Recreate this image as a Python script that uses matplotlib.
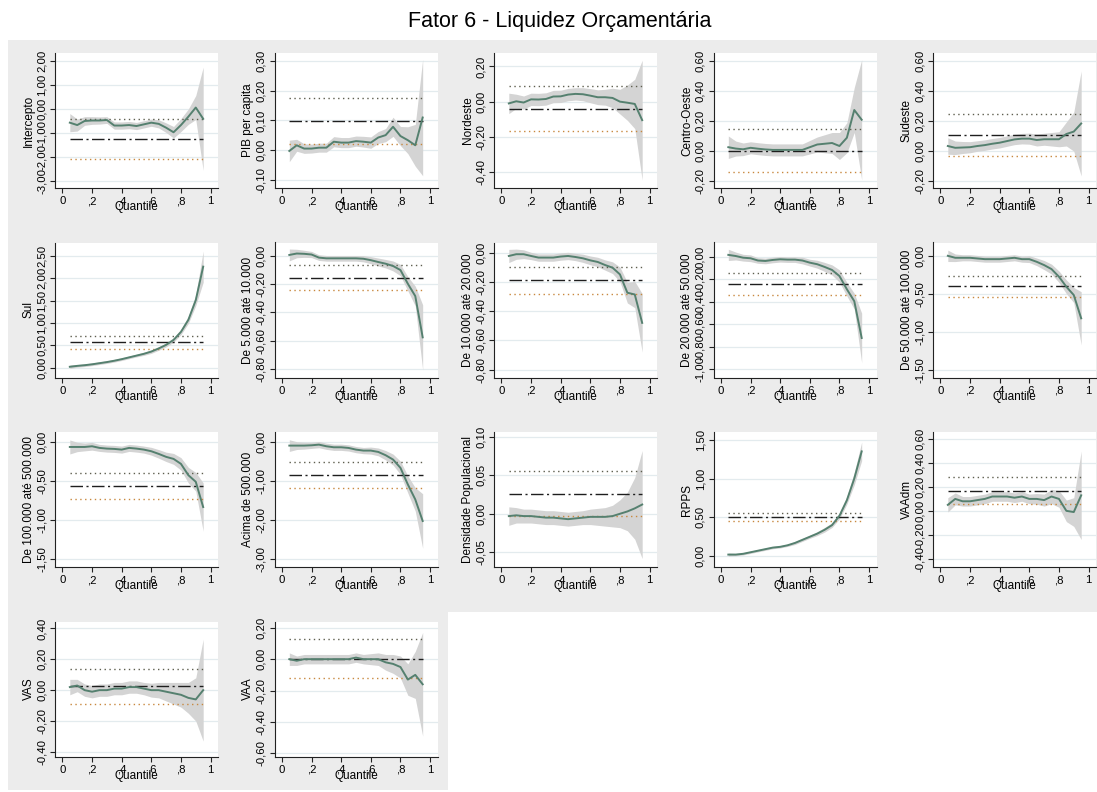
import numpy as np
import matplotlib.pyplot as plt
from matplotlib.patches import Rectangle
from matplotlib.ticker import FuncFormatter

# quantiles estimated
quantiles = [0.05, 0.10, 0.15, 0.20, 0.25, 0.30, 0.35, 0.40, 0.45, 0.50,
             0.55, 0.60, 0.65, 0.70, 0.75, 0.80, 0.85, 0.90, 0.95]

var_names = ["Intercepto", "PIB per capita", "Nordeste", "Centro-Oeste", "Sudeste",
             "Sul", "De 5.000 até 10.000", "De 10.000 até 20.000", "De 20.000 até 50.000",
             "De 50.000 até 100.000", "De 100.000 até 500.000", "Acima de 500.000",
             "Densidade Populacional", "RPPS", "VAAdm", "VAS", "VAA"]

# quantile regression coefficients
intercepto = [-0.56, -0.66, -0.49, -0.47, -0.47, -0.45, -0.68, -0.68, -0.66, -0.70,
              -0.63, -0.56, -0.61, -0.77, -0.96, -0.66, -0.31, 0.07, -0.40]
pib = [-0.002, 0.017, 0.006, 0.006, 0.009, 0.009, 0.029, 0.026, 0.026, 0.031,
       0.029, 0.026, 0.043, 0.051, 0.079, 0.048, 0.034, 0.017, 0.110]
nordeste = [-0.010, 0.002, -0.005, 0.013, 0.012, 0.015, 0.029, 0.030, 0.040, 0.044,
            0.042, 0.034, 0.025, 0.025, 0.021, 0.000, -0.006, -0.013, -0.105]
centro_oeste = [0.022, 0.013, 0.008, 0.018, 0.012, 0.007, 0.004, 0.004, 0.004, 0.004,
                0.004, 0.022, 0.040, 0.045, 0.050, 0.030, 0.085, 0.270, 0.205]
sudeste = [0.030, 0.018, 0.020, 0.022, 0.030, 0.036, 0.045, 0.052, 0.063, 0.074,
           0.079, 0.079, 0.070, 0.075, 0.075, 0.075, 0.110, 0.126, 0.180]
sul = [0.02, 0.04, 0.055, 0.075, 0.10, 0.125, 0.155, 0.19, 0.23, 0.27,
       0.31, 0.36, 0.43, 0.51, 0.62, 0.80, 1.07, 1.51, 2.26]
pop_5_10 = [0.007, 0.017, 0.015, 0.010, -0.012, -0.017, -0.017, -0.017, -0.017, -0.017,
            -0.020, -0.030, -0.043, -0.055, -0.071, -0.100, -0.197, -0.284, -0.576]
pop_10_20 = [-0.023, -0.011, -0.011, -0.023, -0.034, -0.034, -0.034, -0.027, -0.023, -0.030,
             -0.039, -0.053, -0.064, -0.085, -0.103, -0.149, -0.274, -0.286, -0.480]
pop_20_50 = [0.015, 0.005, -0.010, -0.015, -0.035, -0.039, -0.030, -0.024, -0.027, -0.027,
             -0.035, -0.054, -0.068, -0.092, -0.119, -0.173, -0.290, -0.396, -0.723]
pop_50_100 = [0.000, -0.026, -0.026, -0.026, -0.035, -0.044, -0.044, -0.044, -0.035, -0.026,
              -0.044, -0.044, -0.079, -0.122, -0.175, -0.275, -0.407, -0.516, -0.822]
pop_100_500 = [-0.060, -0.060, -0.060, -0.051, -0.072, -0.081, -0.085, -0.094, -0.072, -0.081,
               -0.094, -0.115, -0.149, -0.187, -0.213, -0.277, -0.422, -0.507, -0.831]
pop_500 = [-0.085, -0.085, -0.085, -0.077, -0.060, -0.102, -0.128, -0.128, -0.145, -0.188,
           -0.213, -0.213, -0.247, -0.332, -0.443, -0.656, -1.083, -1.466, -2.020]
densidade = [-0.003, -0.002, -0.003, -0.003, -0.004, -0.005, -0.005, -0.006, -0.007, -0.006,
             -0.005, -0.004, -0.004, -0.004, -0.003, 0.000, 0.003, 0.007, 0.012]
rpps = [0.02, 0.02, 0.03, 0.05, 0.07, 0.09, 0.11, 0.12, 0.14, 0.17,
        0.21, 0.25, 0.29, 0.34, 0.40, 0.52, 0.72, 1.00, 1.35]
vaadm = [0.05, 0.10, 0.08, 0.08, 0.09, 0.10, 0.12, 0.12, 0.12, 0.11,
         0.12, 0.10, 0.10, 0.09, 0.12, 0.10, 0.00, -0.01, 0.13]
vas = [0.02, 0.03, 0.00, -0.01, 0.00, 0.00, 0.01, 0.01, 0.02, 0.02,
       0.01, 0.00, 0.00, -0.01, -0.02, -0.03, -0.05, -0.06, 0.00]
vaa = [0.00, -0.01, 0.00, 0.00, 0.00, 0.00, 0.00, 0.00, 0.00, 0.01,
       0.00, 0.00, 0.00, -0.02, -0.03, -0.05, -0.13, -0.10, -0.16]

# half width of the 95% band
intercepto_hw = [0.38, 0.25, 0.18, 0.16, 0.15, 0.14, 0.15, 0.15, 0.15, 0.15,
                 0.15, 0.15, 0.17, 0.20, 0.24, 0.27, 0.32, 0.50, 2.15]
pib_hw = [0.036, 0.020, 0.016, 0.015, 0.015, 0.015, 0.017, 0.017, 0.017, 0.017,
          0.018, 0.019, 0.020, 0.022, 0.032, 0.032, 0.045, 0.070, 0.195]
nordeste_hw = [0.058, 0.040, 0.037, 0.035, 0.035, 0.035, 0.035, 0.035, 0.035, 0.035,
               0.037, 0.040, 0.042, 0.045, 0.055, 0.070, 0.100, 0.140, 0.340]
centro_oeste_hw = [0.075, 0.050, 0.042, 0.040, 0.040, 0.040, 0.040, 0.040, 0.040, 0.040,
                   0.040, 0.045, 0.050, 0.060, 0.070, 0.090, 0.100, 0.150, 0.400]
sudeste_hw = [0.055, 0.045, 0.040, 0.037, 0.035, 0.035, 0.035, 0.035, 0.035, 0.035,
              0.035, 0.037, 0.040, 0.040, 0.045, 0.050, 0.080, 0.130, 0.350]
sul_hw = [0.04, 0.03, 0.03, 0.03, 0.03, 0.03, 0.03, 0.03, 0.03, 0.03,
          0.035, 0.04, 0.04, 0.045, 0.05, 0.06, 0.08, 0.12, 0.35]
pop_5_10_hw = [0.042, 0.030, 0.025, 0.022, 0.020, 0.020, 0.020, 0.020, 0.020, 0.020,
               0.022, 0.025, 0.028, 0.030, 0.035, 0.040, 0.050, 0.070, 0.230]
pop_10_20_hw = [0.045, 0.035, 0.030, 0.025, 0.025, 0.025, 0.025, 0.025, 0.025, 0.025,
                0.028, 0.030, 0.032, 0.035, 0.040, 0.050, 0.070, 0.090, 0.200]
pop_20_50_hw = [0.050, 0.035, 0.030, 0.030, 0.025, 0.025, 0.025, 0.025, 0.025, 0.025,
                0.030, 0.030, 0.035, 0.040, 0.045, 0.055, 0.060, 0.070, 0.220]
pop_50_100_hw = [0.075, 0.050, 0.040, 0.040, 0.040, 0.040, 0.040, 0.040, 0.040, 0.040,
                 0.040, 0.045, 0.050, 0.060, 0.065, 0.075, 0.090, 0.100, 0.350]
pop_100_500_hw = [0.090, 0.060, 0.050, 0.050, 0.045, 0.045, 0.045, 0.045, 0.045, 0.045,
                  0.045, 0.050, 0.055, 0.060, 0.070, 0.080, 0.100, 0.120, 0.310]
pop_500_hw = [0.15, 0.10, 0.09, 0.08, 0.08, 0.08, 0.08, 0.08, 0.08, 0.08,
              0.08, 0.09, 0.10, 0.12, 0.14, 0.17, 0.22, 0.30, 0.70]
densidade_hw = [0.012, 0.010, 0.009, 0.009, 0.009, 0.009, 0.009, 0.009, 0.009, 0.009,
                0.009, 0.010, 0.011, 0.012, 0.014, 0.018, 0.025, 0.040, 0.070]
rpps_hw = [0.02, 0.015, 0.015, 0.015, 0.015, 0.015, 0.015, 0.015, 0.015, 0.02,
           0.02, 0.02, 0.025, 0.03, 0.03, 0.04, 0.05, 0.08, 0.12]
vaadm_hw = [0.06, 0.05, 0.04, 0.04, 0.04, 0.04, 0.04, 0.04, 0.04, 0.04,
            0.04, 0.04, 0.045, 0.05, 0.06, 0.07, 0.09, 0.12, 0.37]
vas_hw = [0.05, 0.04, 0.04, 0.04, 0.04, 0.04, 0.04, 0.04, 0.04, 0.04,
          0.04, 0.045, 0.05, 0.06, 0.07, 0.08, 0.10, 0.14, 0.33]
vaa_hw = [0.04, 0.03, 0.03, 0.03, 0.03, 0.03, 0.03, 0.03, 0.03, 0.03,
          0.03, 0.035, 0.04, 0.05, 0.06, 0.07, 0.10, 0.15, 0.33]

# OLS coefficient and its confidence interval
ols_coef = [-1.24, 0.097, -0.040, 0.000, 0.104, 0.567, -0.154, -0.190, -0.242,
            -0.400, -0.562, -0.844, 0.026, 0.500, 0.170, 0.026, 0.000]
ols_lo = [-2.07, 0.020, -0.166, -0.146, -0.034, 0.420, -0.242, -0.281, -0.342,
          -0.538, -0.733, -1.185, -0.003, 0.450, 0.056, -0.090, -0.120]
ols_hi = [-0.40, 0.174, 0.088, 0.146, 0.243, 0.710, -0.066, -0.098, -0.143,
          -0.262, -0.392, -0.503, 0.055, 0.550, 0.285, 0.140, 0.130]

yticks = [[-3, -2, -1, 0, 1, 2], [-0.1, 0, 0.1, 0.2, 0.3], [-0.4, -0.2, 0, 0.2],
          [-0.2, 0, 0.2, 0.4, 0.6], [-0.2, 0, 0.2, 0.4, 0.6],
          [0, 0.5, 1, 1.5, 2, 2.5], [-0.8, -0.6, -0.4, -0.2, 0], [-0.8, -0.6, -0.4, -0.2, 0],
          [-1, -0.8, -0.6, -0.4, -0.2, 0], [-1.5, -1, -0.5, 0],
          [-1.5, -1, -0.5, 0], [-3, -2, -1, 0], [-0.05, 0, 0.05, 0.1], [0, 0.5, 1, 1.5],
          [-0.4, -0.2, 0, 0.2, 0.4, 0.6],
          [-0.4, -0.2, 0, 0.2, 0.4], [-0.6, -0.4, -0.2, 0, 0.2]]
ylims = [(-3.28, 2.34), (-0.126, 0.326), (-0.49, 0.276), (-0.25, 0.65), (-0.25, 0.65),
         (-0.22, 2.8), (-0.86, 0.095), (-0.853, 0.069), (-1.074, 0.125), (-1.6, 0.175),
         (-1.6, 0.132), (-3.2, 0.264), (-0.069, 0.106), (-0.14, 1.6), (-0.47, 0.66),
         (-0.43, 0.445), (-0.62, 0.24)]

coefs = [intercepto, pib, nordeste, centro_oeste, sudeste, sul, pop_5_10, pop_10_20,
         pop_20_50, pop_50_100, pop_100_500, pop_500, densidade, rpps, vaadm, vas, vaa]
hws = [intercepto_hw, pib_hw, nordeste_hw, centro_oeste_hw, sudeste_hw, sul_hw,
       pop_5_10_hw, pop_10_20_hw, pop_20_50_hw, pop_50_100_hw, pop_100_500_hw,
       pop_500_hw, densidade_hw, rpps_hw, vaadm_hw, vas_hw, vaa_hw]

plt.rcParams['font.family'] = ['Liberation Sans', 'DejaVu Sans']

W, H = 1097, 792
fig = plt.figure(figsize=(W / 100, H / 100), dpi=100)
fig.patch.set_facecolor('white')

# gray graph region behind the panels
bg_ax = fig.add_axes([0, 0, 1, 1], zorder=-10)
bg_ax.set_xlim(0, W)
bg_ax.set_ylim(H, 0)
bg_ax.axis('off')
bg = '#ececec'
bg_ax.add_patch(Rectangle((8, 40), 1097 - 8, 572, color=bg, lw=0))
bg_ax.add_patch(Rectangle((8, 612), 448 - 8, 178, color=bg, lw=0))

fig.text(560 / W, 1 - 22 / H, "Fator 6 - Liquidez Orçamentária", ha='center', va='center',
         fontsize=15.5)

line_col = '#55806f'
band_col = '#d4d4d4'
fmt = FuncFormatter(lambda v, p: ("%.2f" % v).replace('.', ',').replace('-0,00', '0,00'))

q = np.array(quantiles)
for i, name in enumerate(var_names):
    r, c = divmod(i, 5)
    left = 55 + 219.5 * c
    top = 53 + 189.5 * r
    ax = fig.add_axes([left / W, 1 - (top + 135) / H, 163 / W, 135 / H])
    ax.set_facecolor('white')
    b = np.array(coefs[i])
    hw = np.array(hws[i])
    ax.fill_between(q, b - hw, b + hw, color=band_col, lw=0, zorder=1)
    ax.plot([q[0], q[-1]], [ols_coef[i]] * 2, color='#1e1e1e', lw=1.0,
            dashes=(9, 2.5, 1.5, 2.5), zorder=2)
    ax.plot([q[0], q[-1]], [ols_hi[i]] * 2, color='#5e5e4e', lw=1.0,
            dashes=(1, 2.5), zorder=2)
    ax.plot([q[0], q[-1]], [ols_lo[i]] * 2, color='#c8883e', lw=1.0,
            dashes=(1, 2.5), zorder=2)
    ax.plot(q, b, color=line_col, lw=1.4, zorder=3)

    ax.set_xlim(-0.05, 1.05)
    ax.set_ylim(*ylims[i])
    ax.set_xticks([0, 0.2, 0.4, 0.6, 0.8, 1])
    ax.set_xticklabels(["0", ",2", ",4", ",6", ",8", "1"])
    ax.set_yticks(yticks[i])
    ax.yaxis.set_major_formatter(fmt)
    for t in yticks[i]:
        ax.axhline(t, color='#e3ebee', lw=0.9, zorder=0)
    for s in ['top', 'right']:
        ax.spines[s].set_visible(False)
    for s in ['left', 'bottom']:
        ax.spines[s].set_linewidth(0.8)
        ax.spines[s].set_color('#222222')
    ax.tick_params(axis='both', length=3.5, width=0.8, pad=2.5, labelsize=8.2, color='#222222')
    ax.tick_params(axis='y', labelrotation=90)
    for lbl in ax.get_yticklabels():
        lbl.set_va('center')
    ax.set_xlabel("Quantile", fontsize=8.5, labelpad=-3.5)
    ax.set_ylabel(name, fontsize=8.5, labelpad=1.5)

fig.savefig("out.png", dpi=100)
